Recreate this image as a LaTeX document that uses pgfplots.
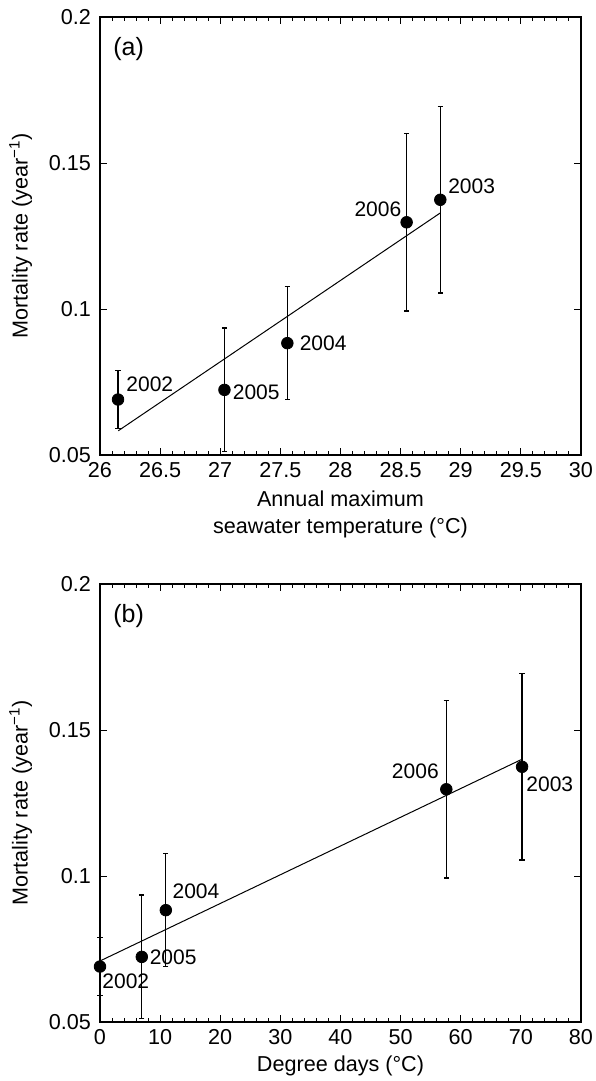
\documentclass[border=0pt]{standalone}
\usepackage{fontspec}
\setmainfont{Liberation Sans}
\usepackage{pgfplots}
\pgfplotsset{compat=1.18}
\usepackage{pgfplotstable}

% x y err+ err-
\pgfplotstableread{
x       y       ep      em
26.150  0.0690  0.0099  0.0098
27.035  0.0723  0.0212  0.0212
27.558  0.0883  0.0194  0.0194
28.550  0.1297  0.0305  0.0304
28.830  0.1374  0.0319  0.0319
}\dataA

\pgfplotstableread{
x       y       ep      em
0.00    0.0690  0.0099  0.0098
6.95    0.0723  0.0212  0.0212
10.95   0.0883  0.0194  0.0194
57.60   0.1297  0.0305  0.0304
70.20   0.1374  0.0319  0.0319
}\dataB

\tikzset{yr/.style={font=\fontsize{10.5}{12}\selectfont, inner sep=0pt}}

\pgfplotsset{
  myax/.style={
    scale only axis, width=240.5pt, height=219pt,
    ymin=0.05, ymax=0.2,
    ytick={0.05,0.1,0.15,0.2}, yticklabels={0.05,0.1,0.15,0.2},
    tick align=inside, major tick length=3.5pt, minor tick length=2pt,
    minor x tick num=4,
    tick style={black, line width=0.5pt},
    axis line style={line width=0.6pt},
    ticklabel style={font=\fontsize{10.8}{12}\selectfont},
    yticklabel style={xshift=-1pt},
    /pgf/number format/assume math mode=true,
    xticklabel style={/pgf/number format/fixed},
    label style={font=\fontsize{10.8}{13.5}\selectfont},
    ylabel={Mortality rate (year\textsuperscript{−1})},
    ylabel style={at={(axis description cs:-0.165,0.5)}, anchor=center},
    clip=false,
  },
  pts/.style={only marks, mark=*, mark size=2.9pt, black,
    error bars/.cd, y dir=both, y explicit,
    error bar style={line width=0.6pt, black},
    error mark options={rotate=90, mark size=1.3pt, line width=0.6pt, black}},
}

\begin{document}
\begin{tikzpicture}
\path[use as bounding box] (-50pt,8.5pt) rectangle (247.5pt,-532pt);

\begin{axis}[myax, at={(0,0)}, anchor=north west,
  xmin=26, xmax=30, xtick={26,26.5,27,27.5,28,28.5,29,29.5,30},
  xticklabels={26,26.5,27,27.5,28,28.5,29,29.5,30},
  xlabel={Annual maximum\\seawater temperature (°C)},
  xlabel style={align=center, at={(axis description cs:0.5,-0.066)}, anchor=north}]
\addplot[black, line width=0.5pt, no marks] coordinates {(26.152,0.0583) (28.83,0.1329)};
\addplot[pts] table[x=x, y=y, y error plus=ep, y error minus=em] {\dataA};
\node[yr, anchor=south west, xshift=4pt, yshift=3.5pt] at (axis cs:26.150,0.0690) {2002};
\node[yr, anchor=west, xshift=4pt, yshift=-1.2pt] at (axis cs:27.035,0.0723) {2005};
\node[yr, anchor=west, xshift=6pt] at (axis cs:27.558,0.0883) {2004};
\node[yr, anchor=south east, xshift=-2.5pt, yshift=2.8pt] at (axis cs:28.550,0.1297) {2006};
\node[yr, anchor=south west, xshift=3.8pt, yshift=2.8pt] at (axis cs:28.830,0.1374) {2003};
\node[anchor=west, inner sep=0pt, font=\fontsize{12.5}{14}\selectfont, xshift=6.5pt, yshift=-16pt] at (rel axis cs:0,1) {(a)};
\end{axis}

\begin{axis}[myax, at={(0,-283.5pt)}, anchor=north west,
  xmin=0, xmax=80, xtick={0,10,...,80},
  xlabel={Degree days (°C)},
  xlabel style={at={(axis description cs:0.5,-0.06)}, anchor=north}]
\addplot[black, line width=0.5pt, no marks] coordinates {(0,0.0709) (70.2,0.140)};
\addplot[pts] table[x=x, y=y, y error plus=ep, y error minus=em] {\dataB};
\node[yr, anchor=north west, xshift=1pt, yshift=-3.5pt] at (axis cs:0,0.0690) {2002};
\node[yr, anchor=west, xshift=3.8pt, yshift=-0.4pt] at (axis cs:6.95,0.0723) {2005};
\node[yr, anchor=south west, xshift=3.2pt, yshift=5.5pt] at (axis cs:10.95,0.0883) {2004};
\node[yr, anchor=south east, xshift=-3.6pt, yshift=5pt] at (axis cs:57.60,0.1297) {2006};
\node[yr, anchor=north west, xshift=2pt, yshift=-5pt] at (axis cs:70.20,0.1374) {2003};
\node[anchor=west, inner sep=0pt, font=\fontsize{12.5}{14}\selectfont, xshift=6.5pt, yshift=-16pt] at (rel axis cs:0,1) {(b)};
\end{axis}
\end{tikzpicture}
\end{document}
